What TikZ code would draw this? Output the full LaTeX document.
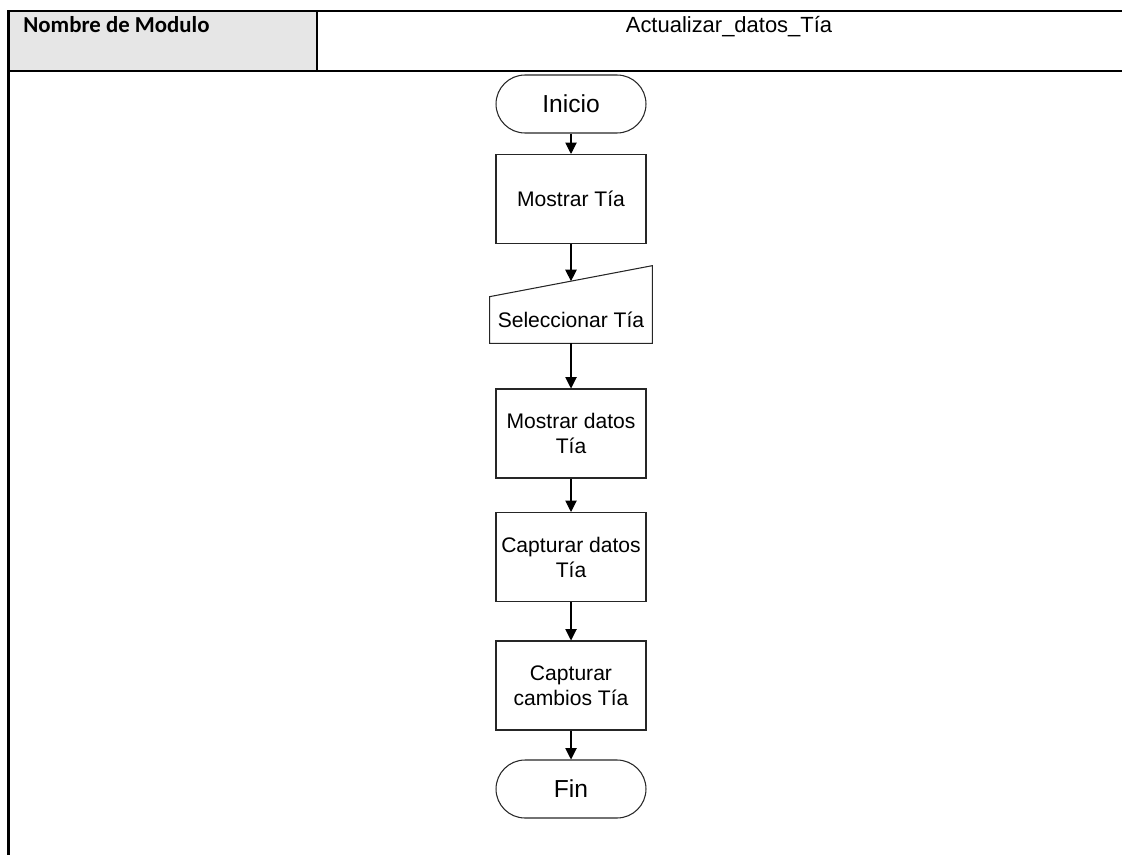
\documentclass[tikz,border=0pt]{standalone}
\usepackage{fontspec}
\setmainfont{Liberation Sans}
\newfontfamily\calibri{Carlito}
\usetikzlibrary{arrows.meta,calc}
\definecolor{celda}{HTML}{E6E6E6}
\definecolor{trazo}{HTML}{262626}

\tikzset{
  terminal/.style={draw=trazo,line width=0.6pt,rounded corners=0.58cm,minimum width=3cm,minimum height=1.16cm,inner sep=0pt,font=\fontsize{14}{16}\selectfont},
  proceso/.style={draw=trazo,line width=0.6pt,minimum width=3cm,minimum height=1.78cm,inner sep=0pt,align=center,font=\fontsize{12}{14.2}\selectfont},
  entrada/.style={minimum width=3.24cm,minimum height=0.92cm,inner sep=0pt,font=\fontsize{12}{14.2}\selectfont},
  flecha/.style={black,line width=0.6pt,-{Triangle[length=6.5pt,width=6.5pt]}},
  tabla/.style={line width=1.2pt}
}

\begin{document}
\begin{tikzpicture}[x=0.02cm,y=-0.02cm]
  \useasboundingbox (0,0) rectangle (1122,855);

  % Encabezado de la tabla
  \fill[celda] (8.5,11) rectangle (317,71);
  \draw[tabla] (8.5,11) -- (1122,11);
  \draw[tabla] (8.5,71) -- (1122,71);
  \draw[tabla] (8.5,10.4) -- (8.5,855);
  \draw[tabla] (317,11) -- (317,71);
  \node[anchor=base west,inner sep=0pt,font=\calibri\bfseries\fontsize{13}{15}\selectfont] (nombre) at (23,33) {Nombre de Modulo};
  \node[anchor=base,inner sep=0pt,font=\fontsize{12.5}{15}\selectfont] (modulo) at (729,33) {Actualizar\_datos\_Tía};

  % Diagrama de flujo
  \node[terminal] (inicio) at (571,104) {Inicio};
  \node[proceso] (mostrar) at (571,199) {Mostrar Tía};
  \node[entrada] (selec) at (571,320) {Seleccionar Tía};
  \draw[trazo,line width=0.6pt] (selec.south west) -- (selec.south east)
    -- ([yshift=0.62cm]selec.north east) -- (selec.north west) -- cycle;
  \coordinate (selecin) at ([yshift=0.31cm]selec.north);
  \node[proceso] (datos) at (571,433.5) {Mostrar datos\\Tía};
  \node[proceso] (captura) at (571,557) {Capturar datos\\Tía};
  \node[proceso] (cambios) at (571,685.5) {Capturar\\cambios Tía};
  \node[terminal] (fin) at (571,789) {Fin};

  \draw[flecha] (inicio) -- (mostrar);
  \draw[flecha] (mostrar) -- (selecin);
  \draw[flecha] (selec) -- (datos);
  \draw[flecha] (datos) -- (captura);
  \draw[flecha] (captura) -- (cambios);
  \draw[flecha] (cambios) -- (fin);
\end{tikzpicture}
\end{document}
